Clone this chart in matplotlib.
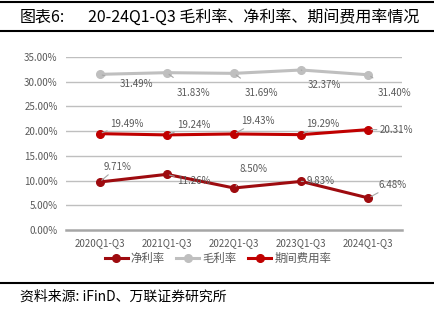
import matplotlib.pyplot as plt
from matplotlib.lines import Line2D

plt.rcParams['font.family'] = ['Noto Sans CJK SC', 'DejaVu Sans']

periods = ["2020Q1-Q3", "2021Q1-Q3", "2022Q1-Q3", "2023Q1-Q3", "2024Q1-Q3"]
net_margin = [9.71, 11.26, 8.50, 9.83, 6.48]
gross_margin = [31.49, 31.83, 31.69, 32.37, 31.40]
expense_ratio = [19.49, 19.24, 19.43, 19.29, 20.31]
yticks = [0, 5, 10, 15, 20, 25, 30, 35]

# label offsets in pixels (dx, dy) relative to each point
net_off = [(18, 15), (27, -7), (20, 19), (19, 0), (24, 13)]
gross_off = [(37, -10), (27, -20), (27, -20), (23, -15), (26, -18)]
exp_off = [(27, 10), (27, 10), (24, 13), (22, 11), (28, 0)]

c_net = "#9E0B0F"
c_gross = "#BFBFBF"
c_exp = "#C00000"
txt = "#595959"

fig = plt.figure(figsize=(4.35, 3.22), dpi=100)
ax = fig.add_axes([66 / 435, 1 - 230 / 322, 336 / 435, 173 / 322])

x = list(range(len(periods)))
series = [
    (net_margin, c_net, "净利率", net_off),
    (gross_margin, c_gross, "毛利率", gross_off),
    (expense_ratio, c_exp, "期间费用率", exp_off),
]
for vals, col, name, offs in series:
    ax.plot(x, vals, color=col, lw=2.2, marker="o", ms=5.5, label=name, zorder=3)
    for xi, v, (dx, dy) in zip(x, vals, offs):
        ax.annotate(f"{v:.2f}%", (xi, v), xytext=(dx, dy), textcoords="offset pixels",
                    ha="center", va="center", fontsize=7, color=txt,
                    arrowprops=dict(arrowstyle="-", color="#A6A6A6", lw=0.8,
                                    shrinkA=9, shrinkB=2))

ax.set_xlim(-0.5, 4.5)
ax.set_ylim(0, 35)
ax.set_yticks(yticks)
ax.set_yticklabels([f"{t:.2f}%" for t in yticks])
ax.set_xticks(x)
ax.set_xticklabels(periods)
ax.tick_params(length=0, labelsize=7, colors=txt, pad=6)
ax.tick_params(axis="x", pad=6)
for t in yticks[1:]:
    ax.axhline(t, color="#BFBFBF", lw=1, zorder=1)
for s in ["top", "right", "left"]:
    ax.spines[s].set_visible(False)
ax.spines["bottom"].set_color("#A6A6A6")
ax.spines["bottom"].set_linewidth(1.8)

handles = [Line2D([], [], color=c, lw=2.2, marker="o", ms=5.5) for _, c, _, _ in series]
fig.legend(handles, [s[2] for s in series], loc="center", ncol=3, frameon=False,
           bbox_to_anchor=(218 / 435, 1 - 258 / 322), fontsize=8.2,
           labelcolor=txt, handlelength=2.0, columnspacing=1.0, handletextpad=0.3)

# title and source bars
fig.add_artist(Line2D([0, 1], [1 - 2 / 322] * 2, color="black", lw=1.5))
fig.add_artist(Line2D([0, 1], [1 - 31 / 322] * 2, color="black", lw=1.5))
fig.add_artist(Line2D([0, 1], [1 - 283 / 322] * 2, color="black", lw=1.5))
fig.text(20 / 435, 1 - 17 / 322, "图表6:", fontsize=11.5, va="center", ha="left")
fig.text(88 / 435, 1 - 17 / 322, "20-24Q1-Q3 毛利率、净利率、期间费用率情况",
         fontsize=11.5, va="center", ha="left")
fig.text(20 / 435, 1 - 297 / 322, "资料来源: iFinD、万联证券研究所", fontsize=10,
         va="center", ha="left", style="italic")

fig.savefig("out.png", dpi=100)
